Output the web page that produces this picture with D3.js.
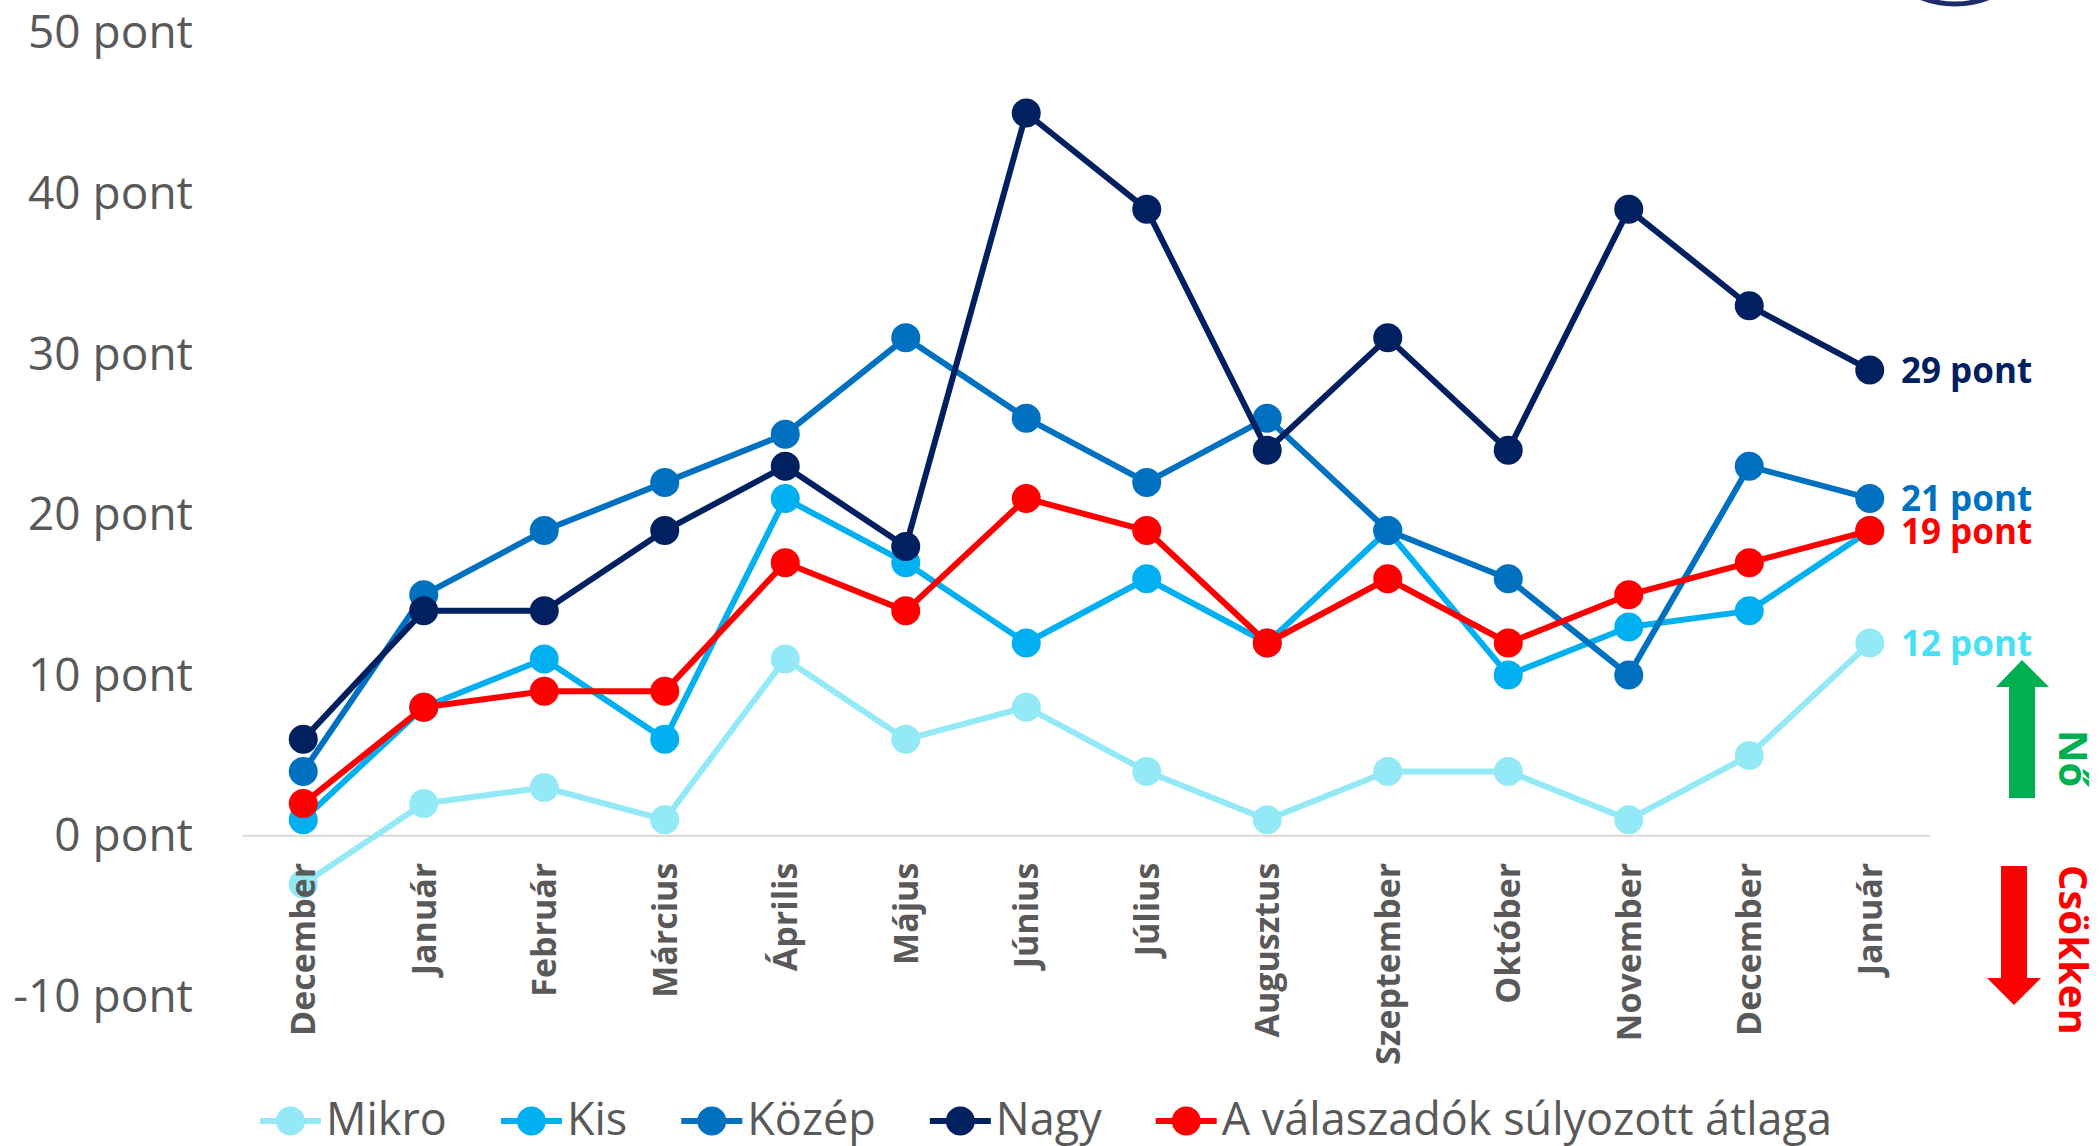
<!DOCTYPE html>
<html>
<head>
<meta charset="utf-8">
<script src="https://cdn.jsdelivr.net/npm/d3@7"></script>
<style>
  html, body { margin: 0; padding: 0; background: #fff; }
  svg { display: block; }
  .tick-label { font-family: 'Open Sans', sans-serif; fill: #595959; }
</style>
</head>
<body>
<svg id="chart"></svg>
<script>
// Months on the x axis (Dec -> Jan of the following year)
const months = ['December', 'Január', 'Február', 'Március', 'Április', 'Május', 'Június',
  'Július', 'Augusztus', 'Szeptember', 'Október', 'November', 'December', 'Január'];

// Series values, in points
const mikro = [-3, 2, 3, 1, 11, 6, 8, 4, 1, 4, 4, 1, 5, 12];
const kis = [1, 8, 11, 6, 21, 17, 12, 16, 12, 19, 10, 13, 14, 19];
const kozep = [4, 15, 19, 22, 25, 31, 26, 22, 26, 19, 16, 10, 23, 21];
const nagy = [6, 14, 14, 19, 23, 18, 45, 39, 24, 31, 24, 39, 33, 29];
const atlag = [2, 8, 9, 9, 17, 14, 21, 19, 12, 16, 12, 15, 17, 19];

const seriesNames = ['Mikro', 'Kis', 'Közép', 'Nagy', 'A válaszadók súlyozott átlaga'];
const seriesColors = ['#93EAF6', '#00B0F0', '#0070C0', '#002060', '#FF0000'];
const labelColors = ['#47E0F5', '#00B0F0', '#0070C0', '#002060', '#FF0000'];

// Y axis ticks
const yTicks = [-10, 0, 10, 20, 30, 40, 50];

const series = [mikro, kis, kozep, nagy, atlag].map((values, i) => ({
  name: seriesNames[i],
  color: seriesColors[i],
  labelColor: labelColors[i],
  values: values
}));

const width = 2099, height = 1146;

const svg = d3.select('#chart')
    .attr('width', width)
    .attr('height', height);

// Scales
const xScale = d3.scaleBand()
    .domain(d3.range(months.length))
    .range([243, 1930])
    .padding(0);

const yScale = d3.scaleLinear()
    .domain([-10, 50])
    .range([996.3, 32.7]);

const cx = i => xScale(i) + xScale.bandwidth() / 2;

// Zero line
svg.append('line')
    .attr('x1', xScale.range()[0])
    .attr('x2', xScale.range()[1])
    .attr('y1', yScale(0))
    .attr('y2', yScale(0))
    .attr('stroke', '#D9D9D9')
    .attr('stroke-width', 2);

// Y axis
const yAxis = d3.axisLeft(yScale)
    .tickValues(yTicks)
    .tickFormat(d => `${d} pont`)
    .tickSize(0)
    .tickPadding(0);

const yAxisG = svg.append('g')
    .attr('transform', 'translate(193,0)')
    .call(yAxis);
yAxisG.select('.domain').remove();
yAxisG.selectAll('text')
    .attr('class', 'tick-label')
    .attr('dy', '0.33em')
    .style('font-size', '46px');

// Lines and markers
const line = d3.line()
    .x((d, i) => cx(i))
    .y(d => yScale(d));

const seriesG = svg.selectAll('.series')
    .data(series)
  .join('g')
    .attr('class', 'series');

seriesG.append('path')
    .attr('d', d => line(d.values))
    .attr('fill', 'none')
    .attr('stroke', d => d.color)
    .attr('stroke-width', 6)
    .attr('stroke-linejoin', 'round');

seriesG.selectAll('circle')
    .data(d => d.values.map((v, i) => ({ v, i, color: d.color })))
  .join('circle')
    .attr('cx', d => cx(d.i))
    .attr('cy', d => yScale(d.v))
    .attr('r', 14.5)
    .attr('fill', d => d.color);

// X axis labels (rotated)
const xAxis = d3.axisBottom(xScale)
    .tickFormat(i => months[i])
    .tickSize(0);

const xAxisG = svg.append('g')
    .attr('transform', `translate(0,${yScale(0)})`)
    .call(xAxis);
xAxisG.select('.domain').remove();
xAxisG.selectAll('text')
    .attr('transform', 'rotate(-90)')
    .attr('x', -27)
    .attr('y', 0)
    .attr('dy', '0.35em')
    .attr('text-anchor', 'end')
    .style('font-family', "'Open Sans', sans-serif")
    .style('font-weight', 'bold')
    .style('font-size', '34px')
    .style('fill', '#595959');

// Value labels at the last point (no label for Kis)
const last = months.length - 1;
svg.selectAll('.end-label')
    .data(series.filter(s => s.name !== 'Kis'))
  .join('text')
    .attr('class', 'end-label')
    .attr('x', 1901)
    .attr('y', d => yScale(d.values[last]))
    .attr('dy', '0.37em')
    .style('font-family', "'Open Sans', sans-serif")
    .style('font-weight', 'bold')
    .style('font-size', '35px')
    .style('fill', d => d.labelColor)
    .text(d => `${d.values[last]} pont`);

// Legend
const legend = svg.append('g').attr('transform', 'translate(260,1121)');
let lx = 0;
series.forEach(s => {
  const item = legend.append('g').attr('transform', `translate(${lx},0)`);
  item.append('line')
      .attr('x1', 0).attr('x2', 61)
      .attr('stroke', s.color)
      .attr('stroke-width', 6);
  item.append('circle')
      .attr('cx', 30.5)
      .attr('r', 14.5)
      .attr('fill', s.color);
  const t = item.append('text')
      .attr('x', 66)
      .attr('y', 14)
      .style('font-family', "'Open Sans', sans-serif")
      .style('font-size', '45px')
      .style('fill', '#595959')
      .text(s.name);
  lx += 66 + t.node().getComputedTextLength() + 54;
});

// Arrows: increase / decrease
svg.append('path')
    .attr('d', 'M2022,660 L2049,687 L2035,687 L2035,798 L2009,798 L2009,687 L1996,687 Z')
    .attr('fill', '#00B050');
svg.append('path')
    .attr('d', 'M2001,866 L2027,866 L2027,978 L2041,978 L2014,1005 L1987,978 L2001,978 Z')
    .attr('fill', '#FF0000');

svg.append('text')
    .attr('transform', 'translate(2059,730) rotate(90)')
    .style('font-family', "'Open Sans', sans-serif")
    .style('font-weight', 'bold')
    .style('font-size', '40px')
    .style('fill', '#00B050')
    .text('Nő');
svg.append('text')
    .attr('transform', 'translate(2059,865) rotate(90)')
    .style('font-family', "'Open Sans', sans-serif")
    .style('font-weight', 'bold')
    .style('font-size', '40px')
    .style('fill', '#FF0000')
    .text('Csökken');

// Logo edge peeking in at the top
svg.append('circle')
    .attr('cx', 1955)
    .attr('cy', -89)
    .attr('r', 93)
    .attr('fill', 'none')
    .attr('stroke', '#1F2A6B')
    .attr('stroke-width', 5);
</script>
</body>
</html>
